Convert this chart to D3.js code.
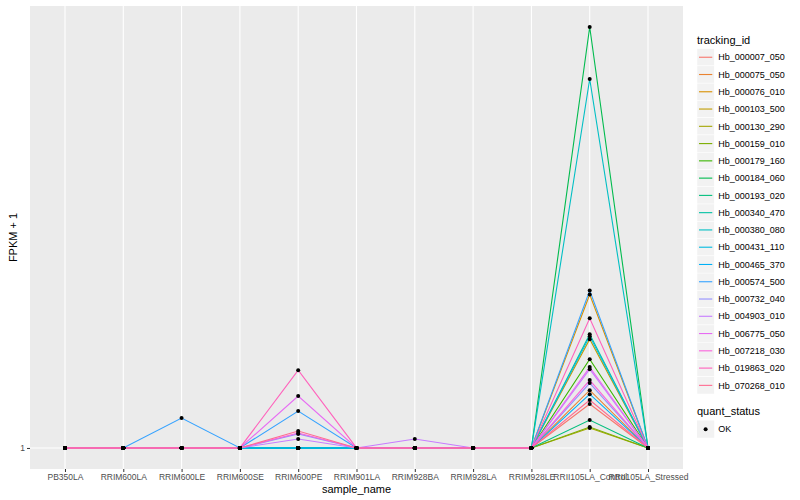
<!DOCTYPE html>
<html>
<head>
<meta charset="utf-8">
<script src="https://cdn.jsdelivr.net/npm/d3@7"></script>
<style>
  body { margin: 0; background: #fff; }
  svg { font-family: "Liberation Sans", Arial, sans-serif; }
</style>
</head>
<body>
<svg id="chart" width="800" height="500"></svg>
<script>
// ── Data ──────────────────────────────────────────────────
const samples = ['PB350LA', 'RRIM600LA', 'RRIM600LE', 'RRIM600SE', 'RRIM600PE', 'RRIM901LA',
  'RRIM928BA', 'RRIM928LA', 'RRIM928LE', 'RRII105LA_Control', 'RRII105LA_Stressed'];

const trackingIds = ['Hb_000007_050', 'Hb_000075_050', 'Hb_000076_010', 'Hb_000103_500', 'Hb_000130_290',
  'Hb_000159_010', 'Hb_000179_160', 'Hb_000184_060', 'Hb_000193_020', 'Hb_000340_470',
  'Hb_000380_080', 'Hb_000431_110', 'Hb_000465_370', 'Hb_000574_500', 'Hb_000732_040',
  'Hb_004903_010', 'Hb_006775_050', 'Hb_007218_030', 'Hb_019863_020', 'Hb_070268_010'];

const colors = ['#F8766D', '#EA8331', '#D89000', '#C09B00', '#A3A500', '#7CAE00', '#39B600', '#00BB4E',
  '#00BF7D', '#00C1A3', '#00BFC4', '#00BAE0', '#00B0F6', '#35A2FF', '#9590FF', '#C77CFF',
  '#E76BF3', '#FA62DB', '#FF62BC', '#FF6C91'];

// FPKM + 1 per tracking id, one value per sample (same order as samples)
const fpkm = [
  [1, 1, 1, 1, 1,    1, 1,    1, 1, 3.10, 1],
  [1, 1, 1, 1, 1,    1, 1,    1, 1, 3.76, 1],
  [1, 1, 1, 1, 1,    1, 1,    1, 1, 8.33, 1],
  [1, 1, 1, 1, 1,    1, 1,    1, 1, 6.19, 1],
  [1, 1, 1, 1, 1,    1, 1,    1, 1, 1.95, 1],
  [1, 1, 1, 1, 1,    1, 1,    1, 1, 2.00, 1],
  [1, 1, 1, 1, 1,    1, 1,    1, 1, 5.24, 1],
  [1, 1, 1, 1, 1,    1, 1,    1, 1, 21.10, 1],
  [1, 1, 1, 1, 1,    1, 1,    1, 1, 2.33, 1],
  [1, 1, 1, 1, 1,    1, 1,    1, 1, 6.43, 1],
  [1, 1, 1, 1, 1,    1, 1,    1, 1, 18.62, 1],
  [1, 1, 1, 1, 1,    1, 1,    1, 1, 6.33, 1],
  [1, 1, 1, 1, 1,    1, 1,    1, 1, 3.57, 1],
  [1, 1, 2.43, 1, 2.76, 1, 1,  1, 1, 8.52, 1],
  [1, 1, 1, 1, 1.67, 1, 1,    1, 1, 4.10, 1],
  [1, 1, 1, 1, 1.43, 1, 1.43, 1, 1, 4.76, 1],
  [1, 1, 1, 1, 3.48, 1, 1,    1, 1, 4.86, 1],
  [1, 1, 1, 1, 1.71, 1, 1,    1, 1, 4.24, 1],
  [1, 1, 1, 1, 4.71, 1, 1,    1, 1, 7.19, 1],
  [1, 1, 1, 1, 1.81, 1, 1,    1, 1, 3.29, 1]
];

const yTicks = [1];

// ── Layout ────────────────────────────────────────────────
const panel = { left: 30, right: 683, top: 6, bottom: 469 };
const svg = d3.select('#chart');

const x = d3.scalePoint()
  .domain(samples)
  .range([panel.left, panel.right])
  .padding(0.6);

const yMin = 1, yMax = d3.max(fpkm.flat());
const pad = (yMax - yMin) * 0.05;
const y = d3.scaleLinear()
  .domain([yMin - pad, yMax + pad])
  .range([panel.bottom, panel.top]);

// panel background + grid
svg.append('rect')
  .attr('x', panel.left).attr('y', panel.top)
  .attr('width', panel.right - panel.left).attr('height', panel.bottom - panel.top)
  .attr('fill', '#EBEBEB');

svg.append('g').selectAll('line')
  .data(samples)
  .enter().append('line')
  .attr('x1', d => x(d)).attr('x2', d => x(d))
  .attr('y1', panel.top).attr('y2', panel.bottom)
  .attr('stroke', '#fff').attr('stroke-width', 1.1);

svg.append('g').selectAll('line')
  .data(yTicks)
  .enter().append('line')
  .attr('x1', panel.left).attr('x2', panel.right)
  .attr('y1', d => y(d)).attr('y2', d => y(d))
  .attr('stroke', '#fff').attr('stroke-width', 1.1);

// ── Axes ──────────────────────────────────────────────────
const xAxis = svg.append('g')
  .attr('transform', `translate(0,${panel.bottom})`)
  .call(d3.axisBottom(x).tickSize(3).tickPadding(2));
const yAxis = svg.append('g')
  .attr('transform', `translate(${panel.left},0)`)
  .call(d3.axisLeft(y).tickValues(yTicks).tickSize(3).tickPadding(2));

[xAxis, yAxis].forEach(g => {
  g.select('.domain').remove();
  g.selectAll('.tick line').attr('stroke', '#333');
  g.selectAll('.tick text')
    .attr('fill', '#4D4D4D')
    .style('font-size', '8.5px')
    .style('font-family', '"Liberation Sans", Arial, sans-serif');
});

svg.append('text')
  .attr('x', (panel.left + panel.right) / 2).attr('y', 493)
  .attr('text-anchor', 'middle')
  .style('font-size', '11px')
  .text('sample_name');

svg.append('text')
  .attr('transform', `translate(17,${(panel.top + panel.bottom) / 2}) rotate(-90)`)
  .attr('text-anchor', 'middle')
  .style('font-size', '11px')
  .text('FPKM + 1');

// ── Lines + points ────────────────────────────────────────
const line = d3.line()
  .x((d, i) => x(samples[i]))
  .y(d => y(d));

svg.append('g').selectAll('path')
  .data(fpkm)
  .enter().append('path')
  .attr('d', line)
  .attr('fill', 'none')
  .attr('stroke', (d, i) => colors[i])
  .attr('stroke-width', 1.1);

const pts = [];
fpkm.forEach(row => row.forEach((v, i) => pts.push({ s: samples[i], v })));

svg.append('g').selectAll('circle')
  .data(pts)
  .enter().append('circle')
  .attr('cx', d => x(d.s))
  .attr('cy', d => y(d.v))
  .attr('r', 2)
  .attr('fill', '#000');

// ── Legend ────────────────────────────────────────────────
const lg = svg.append('g').attr('transform', 'translate(697,0)');
const keyH = 17.27;

lg.append('text')
  .attr('x', 0).attr('y', 44)
  .style('font-size', '11px')
  .text('tracking_id');

const items = lg.selectAll('g.item')
  .data(trackingIds)
  .enter().append('g')
  .attr('transform', (d, i) => `translate(0,${48.6 + i * keyH})`);

items.append('rect')
  .attr('width', keyH).attr('height', keyH)
  .attr('fill', '#F2F2F2').attr('stroke', '#fff').attr('stroke-width', 0.5);
items.append('line')
  .attr('x1', 2).attr('x2', keyH - 2)
  .attr('y1', keyH / 2).attr('y2', keyH / 2)
  .attr('stroke', (d, i) => colors[i]).attr('stroke-width', 1.1);
items.append('text')
  .attr('x', keyH + 4).attr('y', keyH / 2 + 3.2)
  .style('font-size', '9px')
  .text(d => d);

lg.append('text')
  .attr('x', 0).attr('y', 415)
  .style('font-size', '11px')
  .text('quant_status');

const ok = lg.append('g').attr('transform', 'translate(0,420.5)');
ok.append('rect')
  .attr('width', keyH).attr('height', keyH)
  .attr('fill', '#F2F2F2');
ok.append('circle')
  .attr('cx', keyH / 2).attr('cy', keyH / 2).attr('r', 2)
  .attr('fill', '#000');
ok.append('text')
  .attr('x', keyH + 4).attr('y', keyH / 2 + 3.2)
  .style('font-size', '9px')
  .text('OK');
</script>
</body>
</html>
